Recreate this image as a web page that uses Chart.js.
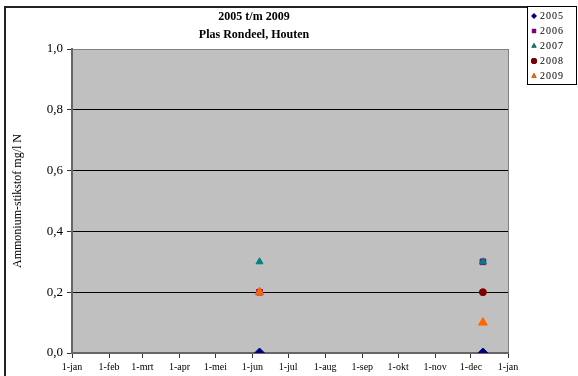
<!DOCTYPE html>
<html lang="nl">
<head>
<meta charset="UTF-8">
<title>Ammonium-stikstof Plas Rondeel</title>
<script src="https://cdn.jsdelivr.net/npm/chart.js"></script>
<style>
  html, body { margin: 0; padding: 0; background: #fff; }
  canvas { display: block; }
</style>
</head>
<body>
<canvas id="chart" width="578" height="376"></canvas>
<script>
// maand-ticks (dag van het jaar) en labels
const monthStarts = [0, 31, 59, 90, 120, 151, 181, 212, 243, 273, 304, 334, 365];
const monthLabels = ['1-jan', '1-feb', '1-mrt', '1-apr', '1-mei', '1-jun', '1-jul',
                     '1-aug', '1-sep', '1-okt', '1-nov', '1-dec', '1-jan'];

// meetdata per jaar: datum (mm-dd) en waarde mg/l N
const years = ['2005', '2006', '2007', '2008', '2009'];
const dates2005 = ['06-07', '12-11'];
const values2005 = [0.0, 0.0];
const dates2006 = ['06-07', '12-11'];
const values2006 = [0.2, 0.3];
const dates2007 = ['06-07', '12-11'];
const values2007 = [0.3, 0.3];
const dates2008 = ['12-11'];
const values2008 = [0.2];
const dates2009 = ['06-07', '12-11'];
const values2009 = [0.2, 0.1];

function dayOfYear(md) {
  const [m, d] = md.split('-').map(Number);
  return (Date.UTC(2001, m - 1, d) - Date.UTC(2001, 0, 1)) / 86400000;
}
function points(dates, values) {
  return dates.map((d, i) => ({ x: dayOfYear(d), y: values[i] }));
}

const serif = 'Liberation Serif';

const series = [
  { label: years[0], data: points(dates2005, values2005), color: '#000080', style: 'rectRot', r: 5 },
  { label: years[1], data: points(dates2006, values2006), color: '#800080', style: 'rect', r: 4 },
  { label: years[2], data: points(dates2007, values2007), color: '#008080', style: 'triangle', r: 4 },
  { label: years[3], data: points(dates2008, values2008), color: '#800000', style: 'circle', r: 3.5 },
  { label: years[4], data: points(dates2009, values2009), color: '#FF6600', style: 'triangle', r: 5 }
];

// grijze plotachtergrond + rand van de grafiek + legenda in kader
const decor = {
  id: 'decor',
  beforeDraw(chart) {
    const { ctx, chartArea: a } = chart;
    ctx.save();
    ctx.fillStyle = '#C0C0C0';
    ctx.fillRect(a.left, a.top, a.right - a.left, a.bottom - a.top);
    ctx.strokeStyle = '#808080';
    ctx.lineWidth = 1;
    ctx.beginPath();
    ctx.moveTo(a.right + 0.5, a.top);
    ctx.lineTo(a.right + 0.5, a.bottom);
    ctx.stroke();
    // buitenrand
    ctx.strokeStyle = '#222';
    ctx.lineWidth = 2;
    ctx.beginPath();
    ctx.moveTo(5, 376);
    ctx.lineTo(5, 7);
    ctx.lineTo(527, 7);
    ctx.stroke();
    ctx.restore();
  },
  afterDraw(chart) {
    const { ctx } = chart;
    const bx = 527, by = 6, bw = 49, bh = 78;
    ctx.save();
    ctx.fillStyle = '#fff';
    ctx.fillRect(bx, by, bw, bh);
    ctx.strokeStyle = '#000';
    ctx.lineWidth = 1;
    ctx.strokeRect(bx + 0.5, by + 0.5, bw, bh);
    ctx.font = '10px "' + serif + '"';
    ctx.letterSpacing = '1px';
    ctx.textBaseline = 'middle';
    chart.data.datasets.forEach((ds, i) => {
      const y = by + 10 + i * 15;
      Chart.helpers.drawPoint(ctx, {
        pointStyle: ds.pointStyle, radius: 3, rotation: 0, borderWidth: 0
      }, bx + 7, y);
      ctx.fillStyle = ds.backgroundColor;
      ctx.fill();
      ctx.fillStyle = '#000';
      ctx.fillText(ds.label, bx + 13, y);
    });
    ctx.restore();
  }
};

new Chart(document.getElementById('chart'), {
  type: 'scatter',
  data: {
    datasets: series.map((s, i) => ({
      label: s.label,
      data: s.data,
      pointStyle: s.style,
      pointRadius: s.r,
      pointHoverRadius: s.r,
      backgroundColor: s.color,
      borderColor: s.color,
      borderWidth: 1,
      order: series.length - i
    }))
  },
  options: {
    responsive: false,
    animation: false,
    layout: { padding: { top: 0, right: 70, bottom: 0, left: 0 } },
    plugins: {
      legend: { display: false },
      tooltip: { enabled: false },
      title: {
        display: true,
        text: ['2005 t/m 2009', 'Plas Rondeel, Houten'],
        color: '#000',
        font: { family: serif, size: 12, weight: 'bold', lineHeight: 1.5 },
        padding: { top: 8, bottom: 5 }
      }
    },
    scales: {
      x: {
        type: 'linear',
        min: 0,
        max: 365,
        afterBuildTicks: s => { s.ticks = monthStarts.map(v => ({ value: v })); },
        afterFit: s => { s.height = 23; },
        ticks: {
          autoSkip: false,
          maxRotation: 0,
          padding: 3,
          color: '#000',
          font: { family: serif, size: 10 },
          callback: (v, i) => monthLabels[i]
        },
        grid: { drawOnChartArea: false, drawTicks: true, tickLength: 5, tickColor: '#333' },
        border: { color: '#666', width: 2 }
      },
      y: {
        min: 0,
        max: 1,
        afterFit: s => { s.width = 72; },
        ticks: {
          stepSize: 0.2,
          padding: 4,
          color: '#000',
          font: { family: serif, size: 13 },
          callback: v => v.toFixed(1).replace('.', ',')
        },
        grid: {
          color: c => (c.tick && c.tick.value === 1) ? '#808080' : '#000',
          tickColor: '#333',
          tickLength: 5
        },
        border: { color: '#666', width: 2 },
        title: {
          display: true,
          text: 'Ammonium-stikstof mg/l N',
          color: '#000',
          font: { family: serif, size: 12 },
          padding: 11
        }
      }
    }
  },
  plugins: [decor]
});
</script>
</body>
</html>
